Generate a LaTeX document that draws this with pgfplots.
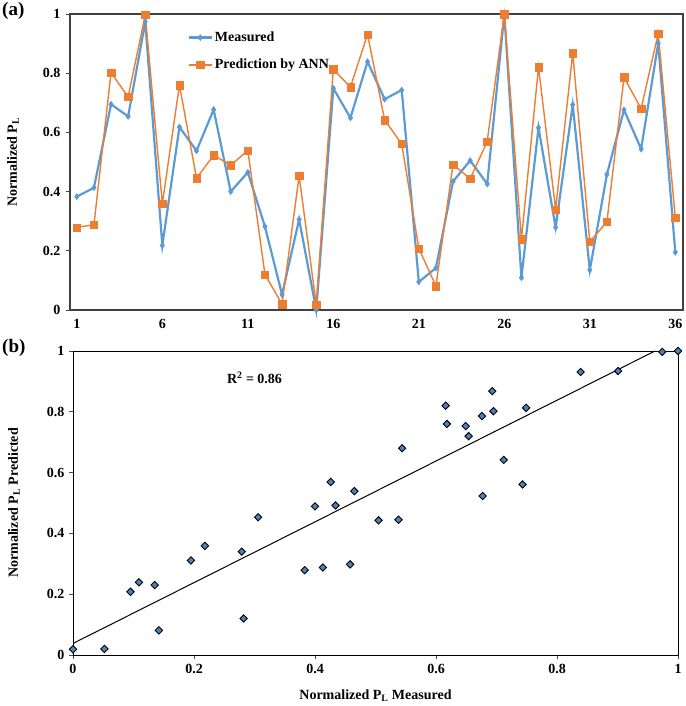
\documentclass[border=0pt]{standalone}
\usepackage{fontspec}
\setmainfont{Liberation Serif}
\usepackage{pgfplots}
\pgfplotsset{compat=1.18}
\usepackage{pgfplotstable}
\definecolor{mblue}{HTML}{5B9BD5}
\definecolor{morange}{HTML}{ED7D31}
\definecolor{sblue}{HTML}{4F81BD}
\definecolor{frame}{HTML}{404040}

\pgfplotstableread{
idx meas pred
1 0.383 0.279
2 0.413 0.288
3 0.695 0.802
4 0.654 0.720
5 0.974 0.997
6 0.218 0.359
7 0.618 0.760
8 0.538 0.445
9 0.677 0.523
10 0.400 0.489
11 0.465 0.539
12 0.282 0.120
13 0.052 0.020
14 0.306 0.453
15 0.000 0.019
16 0.749 0.813
17 0.649 0.753
18 0.839 0.931
19 0.712 0.642
20 0.743 0.561
21 0.095 0.208
22 0.142 0.081
23 0.434 0.492
24 0.505 0.443
25 0.426 0.569
26 1.000 1.000
27 0.109 0.239
28 0.616 0.820
29 0.279 0.340
30 0.693 0.868
31 0.135 0.230
32 0.458 0.298
33 0.676 0.786
34 0.544 0.680
35 0.901 0.934
36 0.195 0.311
}\datatable

\tikzset{
  myfont/.style={font=\bfseries\fontsize{14}{16}\selectfont},
}

\begin{document}
\begin{tikzpicture}[x=1pt,y=1pt]
\useasboundingbox (0,0) rectangle (685,706);
\node[anchor=north west,inner sep=0pt,font=\bfseries\fontsize{19}{21}\selectfont] at (2,704) {(a)};
\node[anchor=north west,inner sep=0pt,font=\bfseries\fontsize{19}{21}\selectfont] at (2,367) {(b)};

% ---------- (a) ----------
\begin{axis}[
  at={(70pt,396pt)}, anchor=south west, scale only axis,
  width=613pt, height=296pt,
  xmin=0.6, xmax=36.45, ymin=0, ymax=1,
  xtick={1,6,11,16,21,26,31,36},
  ytick={0,0.2,0.4,0.6,0.8,1},
  ytick pos=left,
  axis line style={draw=frame, line width=1.3pt},
  tick align=outside, major tick length=4pt,
  xtick style={draw=none},
  ytick style={draw=frame, line width=0.8pt},
  ticklabel style={myfont},
  /pgf/number format/assume math mode=true,
  yticklabel style={xshift=-2pt},
  xticklabel style={yshift=-2pt},
  every axis y label/.style={at={(axis description cs:-0.093,0.5)}, rotate=90, anchor=center, myfont},
  ylabel={Normalized P\textsubscript{L}},
  legend style={draw=none, fill=none, at={(0.19,0.95)}, anchor=north west, myfont, row sep=12pt, inner sep=1pt},
  legend cell align=left,
  legend image code/.code={\draw[mark repeat=2,mark phase=2,#1] plot coordinates {(0pt,0pt) (11.5pt,0pt) (23pt,0pt)};},
  clip=false,
]
\addplot[color=mblue, line width=2.2pt, mark=diamond*, mark size=3pt, mark options={line width=0.5pt}] table[x=idx,y=meas] {\datatable};
\addlegendentry{Measured}
\addplot[color=morange, line width=1.4pt, mark=square*, mark size=3.7pt, mark options={line width=0.3pt}] table[x=idx,y=pred] {\datatable};
\addlegendentry{Prediction by ANN}
\end{axis}

% ---------- (b) ----------
\begin{axis}[
  at={(73pt,51pt)}, anchor=south west, scale only axis,
  width=605pt, height=304pt,
  xmin=0, xmax=1, ymin=0, ymax=1,
  xtick={0,0.2,0.4,0.6,0.8,1},
  ytick={0,0.2,0.4,0.6,0.8,1},
  axis line style={draw=black, line width=0.9pt},
  tick align=outside, major tick length=4pt,
  tick style={draw=black!70, line width=0.6pt},
  xtick pos=bottom, ytick pos=left,
  ticklabel style={myfont},
  /pgf/number format/assume math mode=true,
  yticklabel style={xshift=-1pt},
  xticklabel style={yshift=-2pt},
  every axis y label/.style={at={(axis description cs:-0.0975,0.5)}, rotate=90, anchor=center, myfont},
  every axis x label/.style={at={(axis description cs:0.5,-0.135)}, anchor=center, myfont},
  ylabel={Normalized P\textsubscript{L} Predicted},
  xlabel={Normalized P\textsubscript{L} Measured},
  clip=false,
]
\addplot[black, line width=1pt, no marks] coordinates {(0,0.038) (0.962,1)};
\addplot[only marks, mark=square*, mark size=2.6pt, mark options={rotate=45, fill=sblue, draw=black, line width=0.9pt}] table[x=meas,y=pred] {\datatable};
\node[myfont, anchor=center] at (axis cs:0.30,0.911) {R\textsuperscript{2} = 0.86};
\end{axis}
\end{tikzpicture}
\end{document}
